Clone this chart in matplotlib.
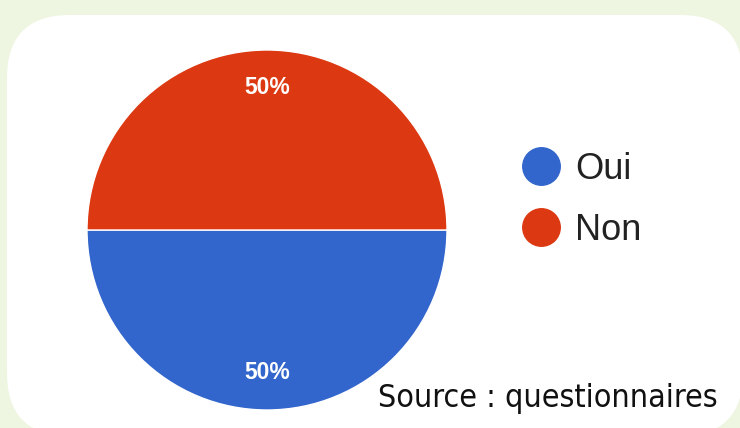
import matplotlib
matplotlib.use("Agg")
from matplotlib import pyplot as plt
from matplotlib.patches import FancyBboxPatch
from matplotlib.lines import Line2D

labels = ["Oui", "Non"]
values = [50, 50]
colors = ["#3366CC", "#DC3912"]
source_text = "Source : questionnaires"

W, H = 740, 428
fig = plt.figure(figsize=(W / 100, H / 100), dpi=100)
fig.patch.set_facecolor("#EEF5E0")

# white rounded card behind the chart
card = FancyBboxPatch((7 / W, -8 / H), 736 / W, 421 / H,
                      boxstyle="round,pad=0,rounding_size=0.085",
                      transform=fig.transFigure, facecolor="white",
                      edgecolor="none", zorder=-5, mutation_aspect=W / H)
fig.patches.append(card)

ax = fig.add_axes([87 / W, 18 / H, 360 / W, 360 / H])
ax.set_zorder(2)
ax.set_facecolor("none")
wedges, texts, autotexts = ax.pie(values, colors=colors, startangle=180,
                                  autopct="%d%%", pctdistance=0.79,
                                  wedgeprops=dict(edgecolor="white", linewidth=1))
for t in autotexts:
    t.set_color("white")
    t.set_fontsize(16.5)
    t.set_fontweight("bold")
    t.set_family(["Liberation Sans", "DejaVu Sans"])
ax.set_xlim(-1, 1)
ax.set_ylim(-1, 1)

handles = [Line2D([], [], marker="o", linestyle="none", markersize=27,
                  markerfacecolor=c, markeredgecolor=c) for c in colors]
leg = fig.legend(handles, labels, loc="upper left",
                 bbox_to_anchor=(519 / W, 1 - 152 / H), frameon=False,
                 prop=dict(family=["Liberation Sans", "DejaVu Sans"], size=26),
                 handletextpad=0.35, labelspacing=0.72, handlelength=1.2,
                 borderaxespad=0, borderpad=0, labelcolor="#222222")
leg.set_zorder(3)

fig.text(718 / W, 1 - 399 / H, source_text, ha="right", va="center",
         fontsize=23, color="#111111", fontstretch="condensed",
         family=["DejaVu Sans", "Liberation Sans"])

fig.savefig("out.png", dpi=100, facecolor=fig.get_facecolor())
